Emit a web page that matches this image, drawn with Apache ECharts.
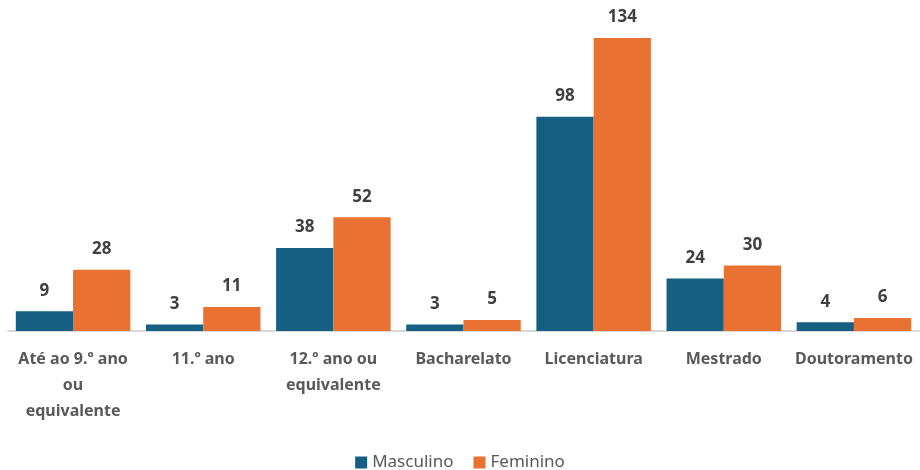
<!DOCTYPE html>
<html>
<head>
<meta charset="utf-8">
<script src="https://cdn.jsdelivr.net/npm/echarts@6/dist/echarts.min.js"></script>
<style>
  html, body { margin: 0; padding: 0; background: #fff; }
  #chart { width: 920px; height: 470px; }
</style>
</head>
<body>
<div id="chart"></div>
<script>
const categories = ['Até ao 9.º ano\nou\nequivalente', '11.º ano', '12.º ano ou\nequivalente', 'Bacharelato', 'Licenciatura', 'Mestrado', 'Doutoramento'];
const masculino = [9, 3, 38, 3, 98, 24, 4];
const feminino = [28, 11, 52, 5, 134, 30, 6];

const fontFamily = '"Noto Sans", "Open Sans", sans-serif';

const labelStyle = {
    show: true,
    position: 'top',
    distance: 12,
    color: '#404040',
    fontSize: 17,
    fontWeight: 'bold',
    fontFamily
};

const myChart = echarts.init(document.getElementById('chart'), null, { renderer: 'canvas' });
myChart.setOption({
    animation: false,
    textStyle: { fontFamily },
    grid: {
        left: 8,
        right: 1,
        top: 25,
        bottom: 139,
        containLabel: false
    },
    legend: {
        top: 449,
        left: 'center',
        itemWidth: 12,
        itemHeight: 12,
        itemGap: 20,
        icon: 'rect',
        textStyle: {
            color: '#595959',
            fontSize: 17,
            fontFamily
        },
        data: ['Masculino', 'Feminino']
    },
    xAxis: {
        type: 'category',
        data: categories,
        axisTick: { show: false },
        axisLine: {
            show: true,
            lineStyle: { color: '#d9d9d9', width: 2 }
        },
        axisLabel: {
            interval: 0,
            margin: 15,
            color: '#595959',
            fontSize: 16,
            fontWeight: 'bold',
            lineHeight: 26,
            fontFamily
        }
    },
    yAxis: {
        type: 'value',
        min: 0,
        max: 140,
        show: false,
        splitLine: { show: false }
    },
    series: [{
        name: 'Masculino',
        type: 'bar',
        data: masculino,
        barGap: '0%',
        barCategoryGap: '12%',
        itemStyle: { color: '#156082' },
        label: labelStyle
    }, {
        name: 'Feminino',
        type: 'bar',
        data: feminino,
        itemStyle: { color: '#E97132' },
        label: labelStyle
    }]
});
</script>
</body>
</html>
